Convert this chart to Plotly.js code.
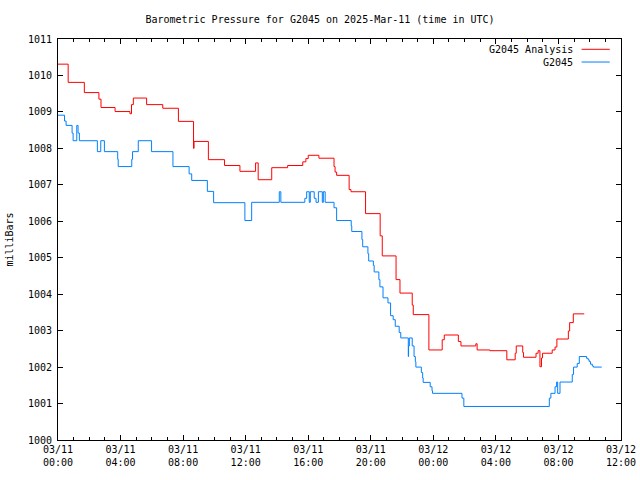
<!DOCTYPE html>
<html>
<head>
<meta charset="utf-8">
<script src="https://cdn.plot.ly/plotly-3.0.1.min.js"></script>
<style>html,body{margin:0;padding:0;background:#fff;}#chart{width:640px;height:480px;}</style>
</head>
<body>
<div id="chart"></div>
<script>
// ---- data ----
const analysisTimes = [
  "2025-03-11 00:00","2025-03-11 00:39","2025-03-11 01:41","2025-03-11 02:37","2025-03-11 02:45",
  "2025-03-11 03:39","2025-03-11 04:36","2025-03-11 04:42","2025-03-11 04:49","2025-03-11 05:40",
  "2025-03-11 06:42","2025-03-11 07:42","2025-03-11 08:40","2025-03-11 08:42","2025-03-11 09:37",
  "2025-03-11 10:39","2025-03-11 11:38","2025-03-11 12:38","2025-03-11 12:48","2025-03-11 13:40",
  "2025-03-11 14:41","2025-03-11 15:39","2025-03-11 15:51","2025-03-11 16:00","2025-03-11 16:41",
  "2025-03-11 17:39","2025-03-11 17:43","2025-03-11 17:49","2025-03-11 18:37","2025-03-11 18:44",
  "2025-03-11 19:40","2025-03-11 20:36","2025-03-11 20:44","2025-03-11 21:37","2025-03-11 21:52",
  "2025-03-11 22:39","2025-03-11 22:43","2025-03-11 23:43","2025-03-12 00:34","2025-03-12 00:42",
  "2025-03-12 01:36","2025-03-12 01:46","2025-03-12 02:43","2025-03-12 02:48","2025-03-12 03:37",
  "2025-03-12 04:42","2025-03-12 05:14","2025-03-12 05:18","2025-03-12 05:43","2025-03-12 05:46",
  "2025-03-12 06:34","2025-03-12 06:42","2025-03-12 06:49","2025-03-12 06:55","2025-03-12 06:59",
  "2025-03-12 07:36","2025-03-12 07:47","2025-03-12 07:54","2025-03-12 08:38","2025-03-12 08:43",
  "2025-03-12 08:57","2025-03-12 09:39"
];
const analysisValues = [
  1010.31,1009.81,1009.53,1009.35,1009.12,
  1009.01,1008.95,1009.20,1009.38,1009.20,
  1009.10,1008.74,1008.00,1008.19,1007.69,
  1007.53,1007.37,1007.60,1007.14,1007.47,
  1007.53,1007.63,1007.72,1007.81,1007.73,
  1007.50,1007.35,1007.26,1006.87,1006.81,
  1006.21,1005.60,1005.05,1004.40,1004.03,
  1003.70,1003.44,1002.47,1002.75,1002.88,
  1002.70,1002.58,1002.64,1002.47,1002.45,
  1002.20,1002.38,1002.58,1002.40,1002.27,
  1002.38,1002.45,1002.01,1002.25,1002.38,
  1002.47,1002.55,1002.77,1002.99,1003.22,
  1003.46,1003.46
];
const stationTimes = [
  "2025-03-11 00:00","2025-03-11 00:25","2025-03-11 00:31","2025-03-11 00:54","2025-03-11 00:58",
  "2025-03-11 01:12","2025-03-11 01:17","2025-03-11 01:22","2025-03-11 02:31","2025-03-11 02:44",
  "2025-03-11 02:58","2025-03-11 03:49","2025-03-11 03:51","2025-03-11 04:43","2025-03-11 04:46",
  "2025-03-11 05:08","2025-03-11 05:59","2025-03-11 07:21","2025-03-11 08:23","2025-03-11 08:33",
  "2025-03-11 09:33","2025-03-11 09:57","2025-03-11 11:57","2025-03-11 12:23","2025-03-11 14:09",
  "2025-03-11 14:15","2025-03-11 15:47","2025-03-11 15:54","2025-03-11 16:04","2025-03-11 16:08",
  "2025-03-11 16:23","2025-03-11 16:30","2025-03-11 16:39","2025-03-11 16:54","2025-03-11 16:58",
  "2025-03-11 17:05","2025-03-11 17:39","2025-03-11 17:49","2025-03-11 18:45","2025-03-11 18:47",
  "2025-03-11 19:26","2025-03-11 19:29","2025-03-11 19:49","2025-03-11 19:52","2025-03-11 20:10",
  "2025-03-11 20:13","2025-03-11 20:31","2025-03-11 20:35","2025-03-11 20:47","2025-03-11 21:06",
  "2025-03-11 21:16","2025-03-11 21:26","2025-03-11 21:34","2025-03-11 21:49","2025-03-11 21:55",
  "2025-03-11 22:24","2025-03-11 22:25","2025-03-11 22:28","2025-03-11 22:39","2025-03-11 22:46",
  "2025-03-11 22:51","2025-03-11 22:53","2025-03-11 23:14","2025-03-11 23:19","2025-03-11 23:21",
  "2025-03-11 23:48","2025-03-11 23:55","2025-03-11 23:57","2025-03-12 01:50","2025-03-12 01:57",
  "2025-03-12 07:25","2025-03-12 07:31","2025-03-12 07:47","2025-03-12 07:53","2025-03-12 07:57",
  "2025-03-12 08:06","2025-03-12 08:53","2025-03-12 08:58","2025-03-12 09:12","2025-03-12 09:20",
  "2025-03-12 09:48","2025-03-12 09:54","2025-03-12 09:58","2025-03-12 10:03","2025-03-12 10:10",
  "2025-03-12 10:14","2025-03-12 10:46"
];
const stationValues = [
  1008.91,1008.75,1008.63,1008.42,1008.21,
  1008.63,1008.42,1008.21,1007.91,1008.21,
  1007.91,1007.70,1007.50,1007.70,1007.91,
  1008.21,1007.91,1007.50,1007.30,1007.12,
  1006.82,1006.51,1006.02,1006.52,1006.81,
  1006.52,1006.63,1006.81,1006.52,1006.81,
  1006.63,1006.52,1006.81,1006.52,1006.81,
  1006.52,1006.37,1006.02,1005.87,1005.72,
  1005.50,1005.30,1005.11,1004.91,1004.79,
  1004.61,1004.40,1004.20,1003.90,1003.76,
  1003.41,1003.30,1003.12,1002.95,1002.80,
  1002.29,1002.58,1002.80,1002.58,1002.29,
  1002.15,1002.00,1001.85,1001.70,1001.58,
  1001.46,1001.35,1001.28,1001.15,1000.92,
  1001.15,1001.28,1001.46,1001.59,1001.28,
  1001.59,1001.80,1002.00,1002.10,1002.29,
  1002.24,1002.20,1002.15,1002.08,1002.03,
  1002.00,1002.00
];
const seriesNames = ["G2045 Analysis", "G2045"];
const seriesColors = ["#ff0000", "#0080ff"];
const xTickVals = [
  "2025-03-11 00:00","2025-03-11 04:00","2025-03-11 08:00","2025-03-11 12:00","2025-03-11 16:00",
  "2025-03-11 20:00","2025-03-12 00:00","2025-03-12 04:00","2025-03-12 08:00","2025-03-12 12:00"
];
const xTickText = [
  "03/11<br>00:00","03/11<br>04:00","03/11<br>08:00","03/11<br>12:00","03/11<br>16:00",
  "03/11<br>20:00","03/12<br>00:00","03/12<br>04:00","03/12<br>08:00","03/12<br>12:00"
];
const yTickVals = [1000,1001,1002,1003,1004,1005,1006,1007,1008,1009,1010,1011];
const titleText = "Barometric Pressure for G2045 on 2025-Mar-11 (time in UTC)";
const yTitleText = "milliBars";

// ---- chart ----
const mono = "DejaVu Sans Mono, monospace";
const traces = [
  {x: analysisTimes, y: analysisValues, name: seriesNames[0], type: "scatter", mode: "lines",
   line: {color: seriesColors[0], width: 1, shape: "hv"}, hoverinfo: "skip"},
  {x: stationTimes, y: stationValues, name: seriesNames[1], type: "scatter", mode: "lines",
   line: {color: seriesColors[1], width: 1, shape: "hv"}, hoverinfo: "skip"}
];

// legend drawn gnuplot-style: text on the left, sample line on the right
const legendY = [0.9743, 0.9426];
const annotations = seriesNames.map((n, i) => ({
  text: n, xref: "paper", yref: "paper", x: 0.919, y: legendY[i],
  xanchor: "right", yanchor: "middle", showarrow: false,
  font: {family: mono, size: 10, color: "#000"}
}));
const shapes = seriesNames.map((n, i) => ({
  type: "line", xref: "paper", yref: "paper", x0: 0.930, x1: 0.980, y0: legendY[i], y1: legendY[i],
  line: {color: seriesColors[i], width: 1}
}));

const layout = {
  width: 640, height: 480,
  margin: {l: 58, r: 19, t: 39, b: 40, pad: 0},
  paper_bgcolor: "#fff", plot_bgcolor: "#fff",
  showlegend: false,
  font: {family: mono, size: 10, color: "#000"},
  title: {text: titleText, x: 0.5, xanchor: "center", y: 0.96, yanchor: "middle",
          font: {family: mono, size: 10, color: "#000"}},
  xaxis: {
    type: "date",
    range: ["2025-03-11 00:00", "2025-03-12 12:00"],
    tickmode: "array", tickvals: xTickVals, ticktext: xTickText,
    ticks: "inside", ticklen: 5, tickwidth: 1, tickcolor: "#000",
    minor: {dtick: 3600000, tick0: "2025-03-11 00:00", ticks: "inside", ticklen: 3, tickcolor: "#000", showgrid: false},
    showline: true, linecolor: "#000", linewidth: 1, mirror: "allticks",
    showgrid: false, zeroline: false,
    tickfont: {family: mono, size: 10, color: "#000"}
  },
  yaxis: {
    range: [1000, 1011],
    tickmode: "array", tickvals: yTickVals, ticktext: yTickVals.map(String),
    ticks: "inside", ticklen: 5, tickwidth: 1, tickcolor: "#000",
    ticklabelstandoff: 3,
    showline: true, linecolor: "#000", linewidth: 1, mirror: "allticks",
    showgrid: false, zeroline: false,
    tickfont: {family: mono, size: 10, color: "#000"},
    title: {text: yTitleText, font: {family: mono, size: 10, color: "#000"}, standoff: 12}
  },
  annotations: annotations,
  shapes: shapes
};

Plotly.newPlot("chart", traces, layout, {staticPlot: true, displayModeBar: false});
</script>
</body>
</html>
